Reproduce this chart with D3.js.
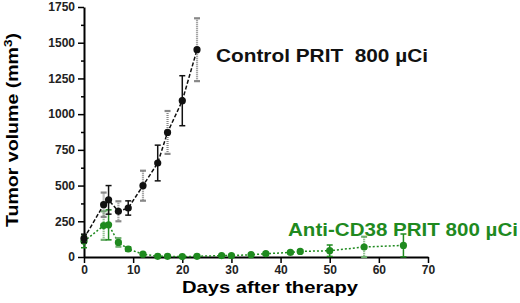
<!DOCTYPE html>
<html>
<head>
<meta charset="utf-8">
<script src="https://cdn.jsdelivr.net/npm/d3@7"></script>
<style>
    body { margin: 0; background: #fff; }
    svg text { font-family: Arial, "Liberation Sans", sans-serif; }
    .tick text { font-size: 12px; font-weight: bold; fill: #222; }
</style>
</head>
<body>
<div id="wrapper"></div>
<script>
const controlDays = [0, 4, 5, 7, 9, 12, 15, 17, 20, 23];
const controlMean = [130, 366, 400, 320, 343, 499, 658, 872, 1094, 1451];
const controlErr = [30, 85, 100, 70, 50, 105, 125, 150, 175, 220];

const cd38Days = [0, 4, 5, 7, 9, 12, 15, 17, 20, 23, 28, 30, 34, 37, 42, 44, 50, 57, 65];
const cd38Mean = [110, 220, 225, 102, 56, 20, 5, 5, 3, 5, 10, 10, 16, 23, 32, 39, 44, 70, 81];
const cd38Err = [45, 100, 105, 30, 15, 8, 4, 3, 3, 3, 5, 5, 6, 8, 8, 8, 40, 72, 80];

const xTicks = [0, 10, 20, 30, 40, 50, 60, 70];
const yTicks = [0, 250, 500, 750, 1000, 1250, 1500, 1750];

const green = "#1f8a1f";

const dimensions = {
    width: 520,
    height: 303,
    margin: {
        top: 7,
        right: 92,
        bottom: 46,
        left: 84,
    },
}

const wrapper = d3.select("#wrapper")
    .append("svg")
    .attr("width", dimensions.width)
    .attr("height", dimensions.height);

const xScale = d3.scaleLinear()
    .domain([0, 70])
    .range([dimensions.margin.left, dimensions.width - dimensions.margin.right]);

const yScale = d3.scaleLinear()
    .domain([0, 1750])
    .range([dimensions.height - dimensions.margin.bottom, dimensions.margin.top]);

// minor y ticks
wrapper.append("g")
    .attr("transform", `translate(${dimensions.margin.left},0)`)
    .call(d3.axisLeft(yScale).tickValues(yTicks.slice(0, -1).map(d => d + 125)).tickSize(3).tickFormat(""))
    .call(g => g.select(".domain").remove())
    .selectAll("line").attr("stroke-width", 1.5);

const yAxis = wrapper.append("g")
    .attr("transform", `translate(${dimensions.margin.left},0)`)
    .call(d3.axisLeft(yScale).tickValues(yTicks).tickFormat(d3.format("d")).tickSize(6).tickPadding(3).tickSizeOuter(0));

const xAxis = wrapper.append("g")
    .attr("transform", `translate(0,${yScale(0)})`)
    .call(d3.axisBottom(xScale).tickValues(xTicks).tickSize(6).tickPadding(2).tickSizeOuter(0));

[xAxis, yAxis].forEach(ax => {
    ax.select(".domain").attr("stroke-width", 2);
    ax.selectAll(".tick line").attr("stroke-width", 1.5);
});

const yTitle = wrapper.append("text")
    .attr("transform", `translate(18,${(yScale(0) + yScale(1750)) / 2 - 2}) rotate(-90)`)
    .attr("text-anchor", "middle")
    .style("font-size", "16px")
    .style("font-weight", "bold")
    .attr("textLength", 194)
    .attr("lengthAdjust", "spacingAndGlyphs");
yTitle.append("tspan").text("Tumor volume (mm");
yTitle.append("tspan").attr("dy", -6).style("font-size", "11px").text("3");
yTitle.append("tspan").attr("dy", 6).text(")");

wrapper.append("text")
    .attr("x", 270)
    .attr("y", 293)
    .attr("text-anchor", "middle")
    .style("font-size", "16px")
    .style("font-weight", "bold")
    .attr("textLength", 176)
    .attr("lengthAdjust", "spacingAndGlyphs")
    .text("Days after therapy");

function drawSeries(days, mean, err, color, dash, dotColor) {
    const data = days.map((d, i) => ({ day: d, mean: mean[i], err: err[i], i }));
    const g = wrapper.append("g");

    g.append("path")
        .datum(data)
        .attr("fill", "none")
        .attr("stroke", color)
        .attr("stroke-width", 1.5)
        .attr("stroke-dasharray", dash)
        .attr("d", d3.line().x(d => xScale(d.day)).y(d => yScale(d.mean)));

    const bars = g.selectAll(".err")
        .data(data)
        .enter()
        .append("g")
        .attr("stroke", d => d.i % 2 ? dotColor : color)
        .attr("stroke-width", d => d.i % 2 ? 2.2 : 1.5);

    bars.append("line")
        .attr("x1", d => xScale(d.day))
        .attr("x2", d => xScale(d.day))
        .attr("y1", d => yScale(d.mean + d.err))
        .attr("y2", d => yScale(Math.max(0, d.mean - d.err)))
        .attr("stroke-dasharray", d => d.i % 2 ? "1,1" : null);

    [1, -1].forEach(s => {
        bars.append("line")
            .attr("x1", d => xScale(d.day) - 3)
            .attr("x2", d => xScale(d.day) + 3)
            .attr("y1", d => yScale(Math.max(0, d.mean + s * d.err)))
            .attr("y2", d => yScale(Math.max(0, d.mean + s * d.err)));
    });

    g.selectAll("circle")
        .data(data)
        .enter()
        .append("circle")
        .attr("cx", d => xScale(d.day))
        .attr("cy", d => yScale(d.mean))
        .attr("r", 3.6)
        .attr("fill", color);
}

drawSeries(cd38Days, cd38Mean, cd38Err, green, "2,2", "#6fae6f");
drawSeries(controlDays, controlMean, controlErr, "#111", "4,2", "#888");

wrapper.append("text")
    .attr("x", 216)
    .attr("y", 62)
    .style("font-size", "19px")
    .style("font-weight", "bold")
    .attr("fill", "#111")
    .attr("xml:space", "preserve")
    .attr("textLength", 212)
    .attr("lengthAdjust", "spacingAndGlyphs")
    .text("Control PRIT  800 \u00b5Ci");

wrapper.append("text")
    .attr("x", 288)
    .attr("y", 236)
    .style("font-size", "19px")
    .style("font-weight", "bold")
    .attr("fill", green)
    .attr("textLength", 230)
    .attr("lengthAdjust", "spacingAndGlyphs")
    .text("Anti-CD38 PRIT 800 \u00b5Ci");
</script>
</body>
</html>
